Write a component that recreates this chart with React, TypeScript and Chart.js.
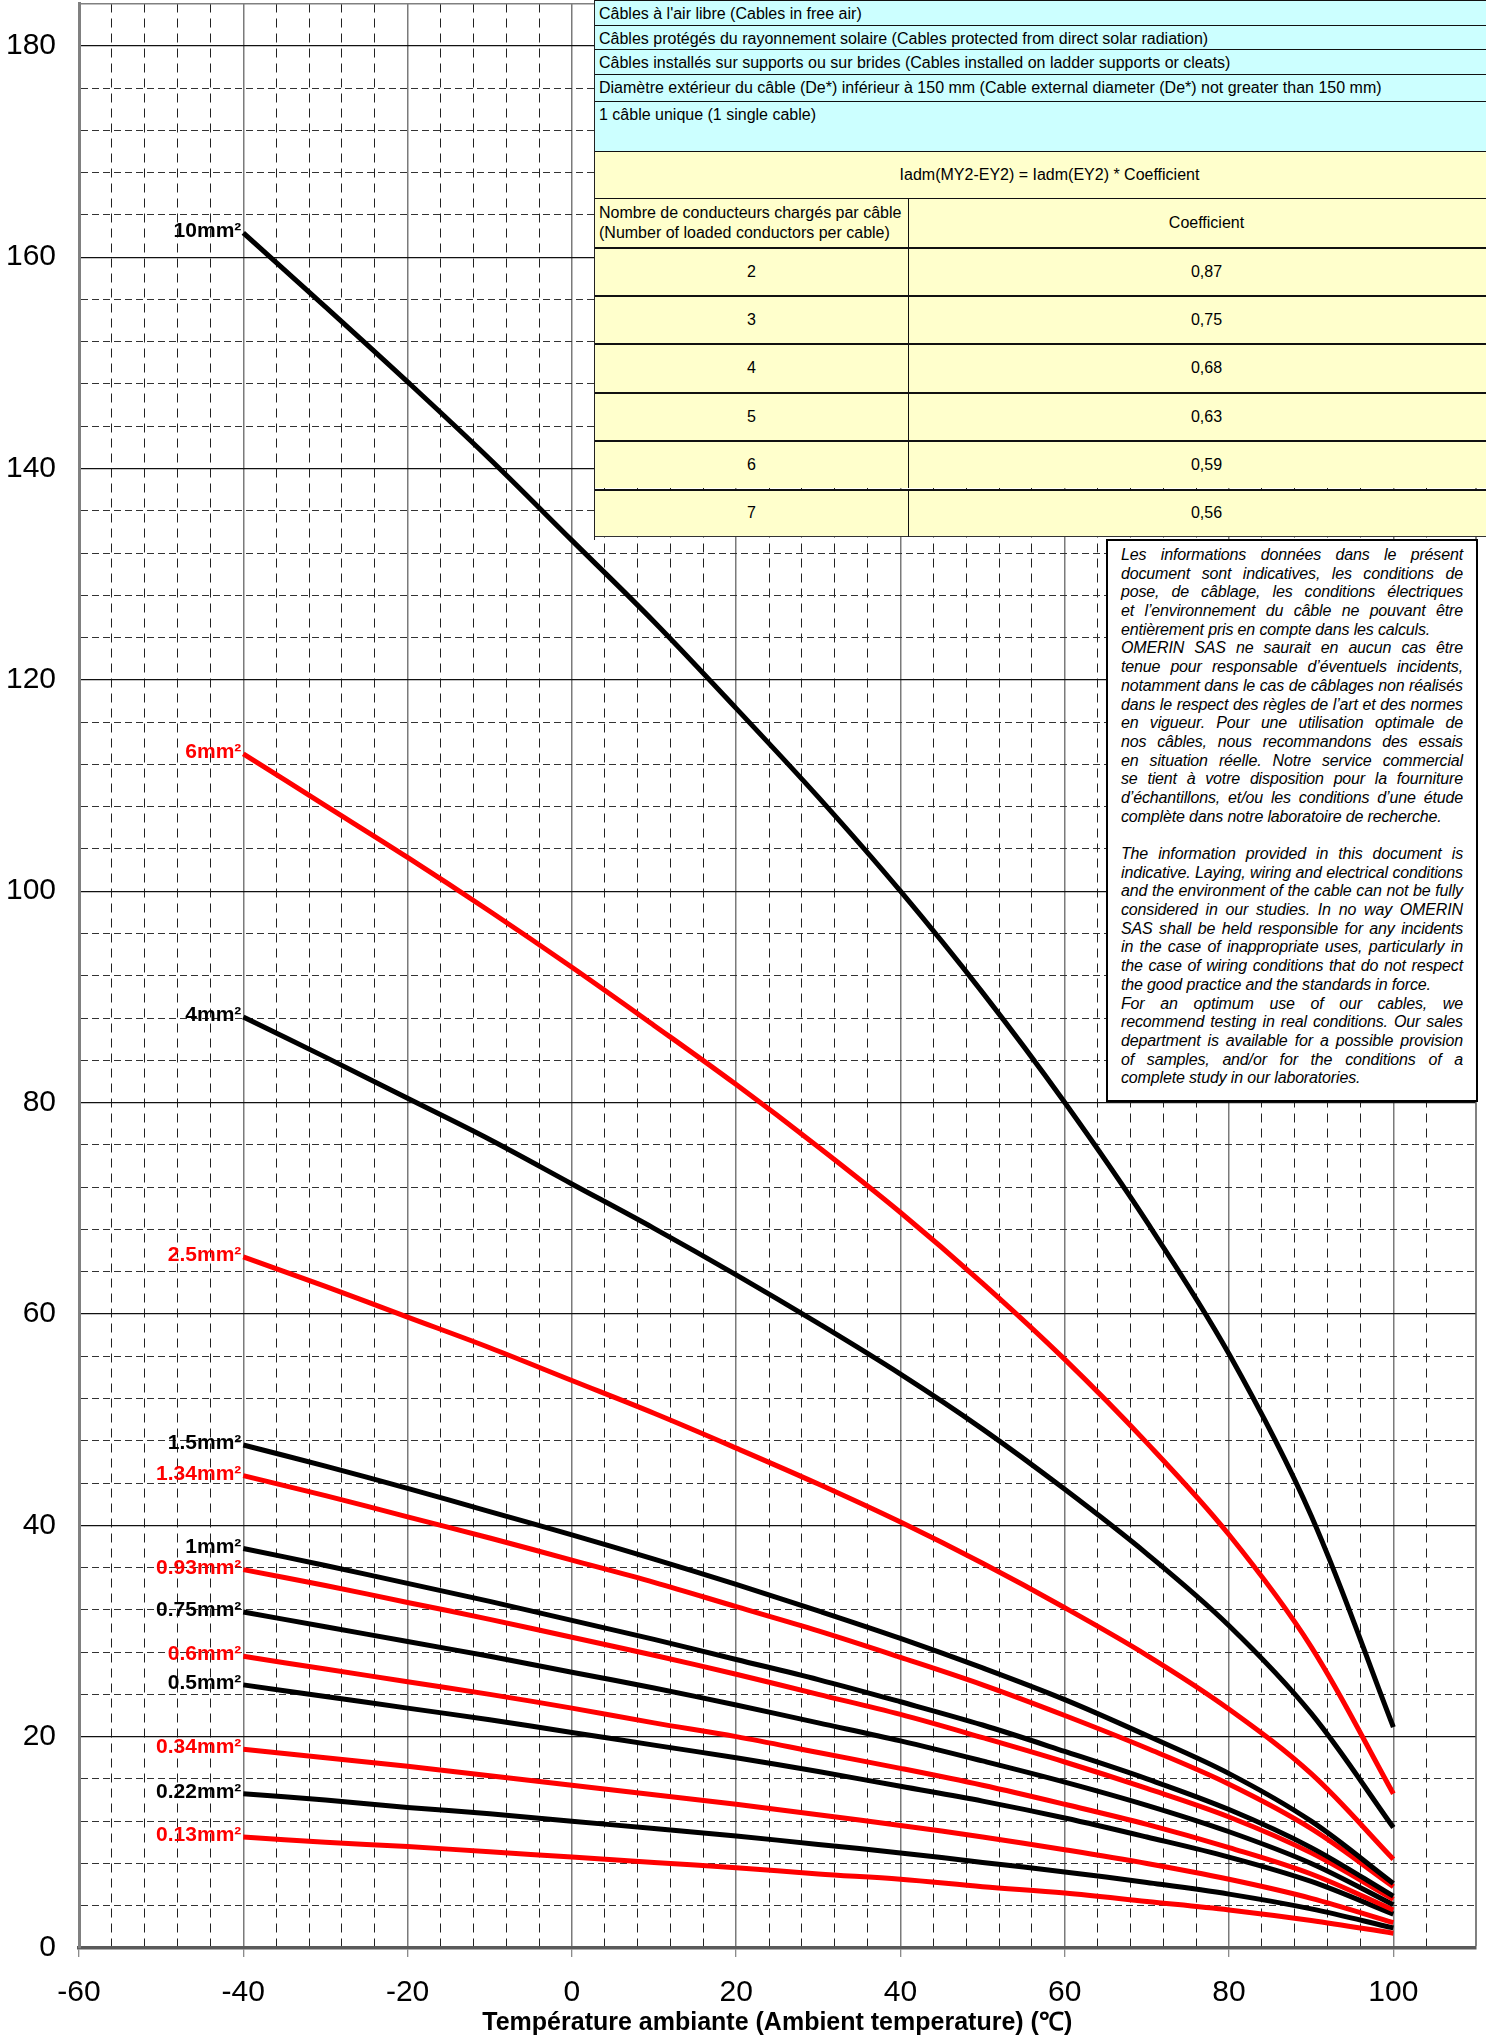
import { useEffect, useRef } from 'react';
import { Chart, registerables, type Plugin, type ScriptableScaleContext } from 'chart.js';

Chart.register(...registerables);

const FONT = '"Liberation Sans", Arial, Helvetica, sans-serif';

// temperatures (°C) at which the curves were read
const temps = [-40, -30, -20, -10, 0, 10, 20, 30, 40, 50, 60, 70, 80, 90, 100];

const sections = [
  '10mm²', '6mm²', '4mm²', '2.5mm²', '1.5mm²', '1.34mm²', '1mm²',
  '0.93mm²', '0.75mm²', '0.6mm²', '0.5mm²', '0.34mm²', '0.22mm²', '0.13mm²',
];
const sectionColors = [
  '#000000', '#ff0000', '#000000', '#ff0000', '#000000', '#ff0000', '#000000',
  '#ff0000', '#000000', '#ff0000', '#000000', '#ff0000', '#000000', '#ff0000',
];

// admissible current (A)
const amp10 = [162.3, 155.3, 148.2, 140.9, 133.2, 125.5, 117.3, 108.9, 100.0, 90.4, 80.0, 68.7, 56.2, 40.9, 20.9];
const amp6 = [113.0, 108.1, 103.2, 98.1, 92.8, 87.3, 81.7, 75.8, 69.6, 62.9, 55.7, 47.8, 39.1, 28.5, 14.6];
const amp4 = [88.1, 84.3, 80.4, 76.5, 72.3, 68.1, 63.7, 59.1, 54.3, 49.1, 43.4, 37.3, 30.5, 22.2, 11.4];
const amp2_5 = [65.4, 62.6, 59.7, 56.8, 53.7, 50.6, 47.3, 43.9, 40.3, 36.4, 32.2, 27.7, 22.6, 16.5, 8.4];
const amp1_5 = [47.6, 45.6, 43.5, 41.3, 39.1, 36.8, 34.4, 31.9, 29.3, 26.5, 23.5, 20.1, 16.5, 12.0, 6.1];
const amp1_34 = [44.7, 42.8, 40.8, 38.8, 36.7, 34.6, 32.3, 30.0, 27.5, 24.9, 22.0, 18.9, 15.5, 11.3, 5.8];
const amp1 = [37.8, 36.2, 34.5, 32.8, 31.0, 29.2, 27.3, 25.4, 23.3, 21.1, 18.6, 16.0, 13.1, 9.5, 4.9];
const amp0_93 = [35.8, 34.3, 32.7, 31.1, 29.4, 27.7, 25.9, 24.0, 22.1, 19.9, 17.6, 15.1, 12.4, 9.0, 4.6];
const amp0_75 = [31.8, 30.4, 29.0, 27.6, 26.1, 24.6, 23.0, 21.3, 19.6, 17.7, 15.7, 13.5, 11.0, 8.0, 4.1];
const amp0_6 = [27.6, 26.4, 25.2, 24.0, 22.7, 21.3, 20.0, 18.5, 17.0, 15.4, 13.6, 11.7, 9.5, 7.0, 3.6];
const amp0_5 = [24.9, 23.8, 22.7, 21.6, 20.4, 19.2, 18.0, 16.7, 15.3, 13.9, 12.3, 10.5, 8.6, 6.3, 3.2];
const amp0_34 = [18.8, 18.0, 17.2, 16.3, 15.4, 14.5, 13.6, 12.6, 11.6, 10.5, 9.3, 8.0, 6.5, 4.7, 2.4];
const amp0_22 = [14.6, 14.0, 13.3, 12.7, 12.0, 11.3, 10.6, 9.8, 9.0, 8.1, 7.2, 6.2, 5.1, 3.7, 1.9];
const amp0_13 = [10.5, 10.0, 9.6, 9.1, 8.6, 8.1, 7.6, 7.0, 6.5, 5.8, 5.2, 4.4, 3.6, 2.6, 1.4];

const series = [
  amp10, amp6, amp4, amp2_5, amp1_5, amp1_34, amp1,
  amp0_93, amp0_75, amp0_6, amp0_5, amp0_34, amp0_22, amp0_13,
];

const envRows = [
  "Câbles à l'air libre (Cables in free air)",
  'Câbles protégés du rayonnement solaire (Cables protected from direct solar radiation)',
  'Câbles installés sur supports ou sur brides (Cables installed on ladder supports or cleats)',
  'Diamètre extérieur du câble (De*) inférieur à 150 mm (Cable external diameter (De*) not greater than 150 mm)',
  '1 câble unique (1 single cable)',
];
const envRowTops = [0, 25, 49, 74, 101, 151];
const conductorCounts = ['2', '3', '4', '5', '6', '7'];
const coefficients = ['0,87', '0,75', '0,68', '0,63', '0,59', '0,56'];

// [text, justified]
const disclaimerLines: [string, boolean][] = [
  ['Les informations données dans le présent', true],
  ['document sont indicatives, les conditions de', true],
  ['pose, de câblage, les conditions électriques', true],
  ['et l’environnement du câble ne pouvant être', true],
  ['entièrement pris en compte dans les calculs.', false],
  ['OMERIN SAS ne saurait en aucun cas être', true],
  ['tenue pour responsable d’éventuels incidents,', true],
  ['notamment dans le cas de câblages non réalisés', true],
  ['dans le respect des règles de l’art et des normes', true],
  ['en vigueur. Pour une utilisation optimale de', true],
  ['nos câbles, nous recommandons des essais', true],
  ['en situation réelle. Notre service commercial', true],
  ['se tient à votre disposition pour la fourniture', true],
  ['d’échantillons, et/ou les conditions d’une étude', true],
  ['complète dans notre laboratoire de recherche.', false],
  ['', false],
  ['The information provided in this document is', true],
  ['indicative. Laying, wiring and electrical conditions', true],
  ['and the environment of the cable can not be fully', true],
  ['considered in our studies. In no way OMERIN', true],
  ['SAS shall be held responsible for any incidents', true],
  ['in the case of inappropriate uses, particularly in', true],
  ['the case of wiring conditions that do not respect', true],
  ['the good practice and the standards in force.', false],
  ['For an optimum use of our cables, we', true],
  ['recommend testing in real conditions. Our sales', true],
  ['department is available for a possible provision', true],
  ['of samples, and/or for the conditions of a', true],
  ['complete study in our laboratories.', false],
];

const tickVal = (c: ScriptableScaleContext) => (c.tick ? c.tick.value : NaN);

const sectionLabels: Plugin<'line'> = {
  id: 'sectionLabels',
  afterDatasetsDraw(chart) {
    const { ctx } = chart;
    ctx.save();
    ctx.font = `bold 21px ${FONT}`;
    ctx.textAlign = 'right';
    ctx.textBaseline = 'alphabetic';
    chart.data.datasets.forEach((ds, i) => {
      const pt = chart.getDatasetMeta(i).data[0];
      if (!pt) return;
      ctx.fillStyle = ds.borderColor as string;
      ctx.fillText(ds.label ?? '', pt.x - 2, pt.y + 4);
    });
    ctx.restore();
  },
};

function CoefTable() {
  const cell = { position: 'absolute' as const, boxSizing: 'border-box' as const };
  const rowH = 48.4;
  return (
    <div
      style={{
        position: 'absolute',
        left: 594,
        top: 0,
        width: 910,
        height: 540,
        fontFamily: FONT,
        fontSize: 16,
        color: '#000',
        borderLeft: '1.5px solid #222',
        boxSizing: 'border-box',
      }}
    >
      {envRows.map((t, i) => (
        <div
          key={t}
          style={{
            ...cell,
            left: 0,
            right: 0,
            top: envRowTops[i],
            height: envRowTops[i + 1] - envRowTops[i],
            background: '#ccffff',
            borderTop: '1.5px solid #111',
            paddingTop: 3.5,
            paddingLeft: 4,
            lineHeight: '18px',
            whiteSpace: 'nowrap',
          }}
        >
          {t}
        </div>
      ))}
      <div
        style={{
          ...cell,
          left: 0,
          right: 0,
          top: 151,
          height: 47,
          background: '#ffffcc',
          borderTop: '1.5px solid #111',
          display: 'flex',
          alignItems: 'center',
          justifyContent: 'center',
        }}
      >
        Iadm(MY2-EY2) = Iadm(EY2) * Coefficient
      </div>
      <div
        style={{
          ...cell,
          left: 0,
          width: 314,
          top: 198,
          height: 48.5,
          background: '#ffffcc',
          borderTop: '1.5px solid #111',
          borderRight: '1.5px solid #111',
          paddingLeft: 4,
          lineHeight: '20px',
          display: 'flex',
          flexDirection: 'column',
          justifyContent: 'center',
          whiteSpace: 'nowrap',
        }}
      >
        <div>Nombre de conducteurs chargés par câble</div>
        <div>(Number of loaded conductors per cable)</div>
      </div>
      <div
        style={{
          ...cell,
          left: 314,
          right: 0,
          top: 198,
          height: 48.5,
          background: '#ffffcc',
          borderTop: '1.5px solid #111',
          display: 'flex',
          alignItems: 'center',
          justifyContent: 'center',
        }}
      >
        Coefficient
      </div>
      {conductorCounts.map((n, i) => {
        const top = 246.5 + i * rowH;
        const last = i === conductorCounts.length - 1;
        return (
          <div key={n}>
            <div
              style={{
                ...cell,
                left: 0,
                width: 314,
                top,
                height: rowH,
                background: '#ffffcc',
                borderTop: '2px solid #111',
                borderRight: '1.5px solid #111',
                borderBottom: last ? '1.5px solid #333' : undefined,
                display: 'flex',
                alignItems: 'center',
                justifyContent: 'center',
              }}
            >
              {n}
            </div>
            <div
              style={{
                ...cell,
                left: 314,
                right: 0,
                top,
                height: rowH,
                background: '#ffffcc',
                borderTop: '2px solid #111',
                borderBottom: last ? '1.5px solid #333' : undefined,
                display: 'flex',
                alignItems: 'center',
                justifyContent: 'center',
              }}
            >
              {coefficients[i]}
            </div>
          </div>
        );
      })}
    </div>
  );
}

function Disclaimer() {
  return (
    <div
      style={{
        position: 'absolute',
        left: 1106,
        top: 539,
        width: 372,
        height: 563,
        boxSizing: 'border-box',
        border: '2.5px solid #000',
        background: '#fff',
        padding: '5px 13px 0 13px',
        fontFamily: FONT,
        fontStyle: 'italic',
        fontSize: 16,
        lineHeight: '18.7px',
        color: '#000',
      }}
    >
      {disclaimerLines.map(([t, just], i) =>
        just ? (
          <div
            key={i}
            style={{ display: 'flex', justifyContent: 'space-between', whiteSpace: 'nowrap', height: 18.7, letterSpacing: -0.15 }}
          >
            {t.split(' ').map((w, j) => (
              <span key={j}>{w}</span>
            ))}
          </div>
        ) : (
          <div key={i} style={{ whiteSpace: 'nowrap', height: 18.7, letterSpacing: -0.15 }}>
            {t}
          </div>
        ),
      )}
    </div>
  );
}

export default function App() {
  const canvasRef = useRef<HTMLCanvasElement>(null);

  useEffect(() => {
    const canvas = canvasRef.current;
    if (!canvas) return;
    Chart.defaults.font.family = FONT;

    const chart = new Chart(canvas, {
      type: 'line',
      data: {
        datasets: sections.map((label, i) => ({
          label,
          data: temps.map((t, j) => ({ x: t, y: series[i][j] })),
          borderColor: sectionColors[i],
          backgroundColor: sectionColors[i],
          borderWidth: 5,
          pointRadius: 0,
          fill: false,
          tension: 0.35,
        })),
      },
      options: {
        responsive: true,
        maintainAspectRatio: false,
        animation: false,
        layout: { padding: { top: 3.5, right: 10.5, left: 0, bottom: 0 } },
        plugins: {
          legend: { display: false },
          tooltip: { enabled: false },
        },
        scales: {
          x: {
            type: 'linear',
            min: -60,
            max: 110,
            afterFit: (s) => {
              s.height = 90;
              s.paddingLeft = 0;
              s.paddingRight = 0;
            },
            ticks: {
              stepSize: 4,
              autoSkip: false,
              maxRotation: 0,
              padding: 18,
              color: '#000',
              font: { size: 30 },
              callback: (v) => (Number(v) % 20 === 0 ? String(v) : ''),
            },
            grid: {
              drawTicks: true,
              tickLength: 9,
              tickWidth: 1,
              tickColor: (c) => (tickVal(c) % 20 === 0 ? '#666' : 'rgba(0,0,0,0)'),
              color: (c) => {
                const v = tickVal(c);
                if (v === -60) return 'rgba(0,0,0,0)';
                if (v === 110) return '#808080';
                if (v % 20 === 0) return '#7a7a7a';
                return '#222';
              },
              lineWidth: (c) => {
                const v = tickVal(c);
                if (v === 110) return 2;
                if (v % 20 === 0) return 1.5;
                return 1;
              },
            },
            border: {
              display: true,
              color: '#5a5a5a',
              width: 3.5,
              dash: (c) => {
                const v = tickVal(c);
                if (isNaN(v) || v % 20 === 0 || v === 110) return [];
                return [9, 6];
              },
            },
            title: {
              display: true,
              text: 'Température ambiante (Ambient temperature) (℃)',
              color: '#000',
              font: { size: 25, weight: 'bold' },
              padding: { top: 0, bottom: 0 },
            },
          },
          y: {
            type: 'linear',
            min: 0,
            max: 184,
            afterFit: (s) => {
              s.width = 79;
              s.paddingTop = 0;
              s.paddingBottom = 0;
            },
            ticks: {
              stepSize: 4,
              autoSkip: false,
              padding: 23,
              color: '#000',
              font: { size: 30 },
              callback: (v) => (Number(v) % 20 === 0 ? String(v) : ''),
            },
            grid: {
              drawTicks: false,
              color: (c) => {
                const v = tickVal(c);
                if (v === 0) return 'rgba(0,0,0,0)';
                if (v === 184) return '#808080';
                if (v % 20 === 0) return '#111';
                return '#333';
              },
              lineWidth: (c) => {
                const v = tickVal(c);
                if (v === 184) return 1.5;
                if (v % 20 === 0) return 1.2;
                return 1;
              },
            },
            border: {
              display: true,
              color: '#808080',
              width: 3,
              dash: (c) => {
                const v = tickVal(c);
                if (isNaN(v) || v % 20 === 0 || v === 184) return [];
                return [7, 4];
              },
            },
          },
        },
      },
      plugins: [sectionLabels],
    });

    return () => chart.destroy();
  }, []);

  return (
    <div style={{ position: 'relative', width: 1486, height: 2038, overflow: 'hidden', background: '#fff' }}>
      <style>{'body{margin:0;}'}</style>
      <div style={{ position: 'absolute', left: 0, top: 0, width: 1486, height: 2038 }}>
        <canvas ref={canvasRef} />
      </div>
      <CoefTable />
      <Disclaimer />
    </div>
  );
}
